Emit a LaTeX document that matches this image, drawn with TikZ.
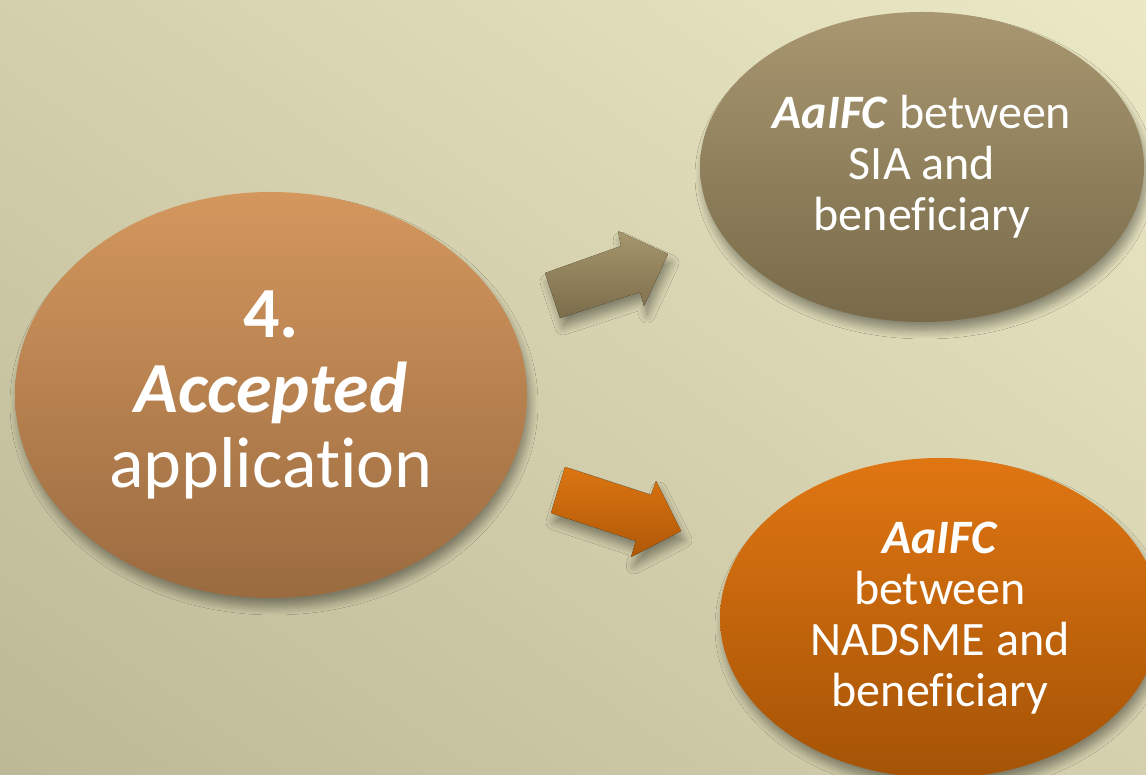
\documentclass[tikz,border=0pt]{standalone}
\usepackage{fontspec}
\setmainfont{Carlito}[Ligatures={NoCommon,NoContextual}]
\usetikzlibrary{shapes.geometric,shadows.blur}
\definecolor{bgLight}{HTML}{ECE9C6}
\definecolor{bgDark}{HTML}{BCB795}
\definecolor{bigTop}{HTML}{D4975E}
\definecolor{bigBot}{HTML}{9A6B40}
\definecolor{trTop}{HTML}{A89770}
\definecolor{trBot}{HTML}{786A49}
\definecolor{brTop}{HTML}{E07612}
\definecolor{brBot}{HTML}{A45306}
\definecolor{arATop}{HTML}{A6966C}
\definecolor{arABot}{HTML}{7C6D4B}
\definecolor{arBTop}{HTML}{DB7511}
\definecolor{arBBot}{HTML}{B05808}
\begin{document}
\begin{tikzpicture}[x=0.5pt,y=0.5pt,
  softshadow/.style={blur shadow={shadow xshift=1.5pt,shadow yshift=-4.5pt,shadow blur radius=4pt,shadow blur steps=10,shadow opacity=38}},
  bubble/.style={ellipse,inner sep=0pt,text=white,align=center,softshadow},
  bigtext/.style={font=\fontsize{36}{37.5}\selectfont},
  smalltext/.style={font=\fontsize{24}{25.5}\selectfont},
  arrowA/.style={top color=arATop,bottom color=arABot,softshadow},
  arrowB/.style={top color=arBTop,bottom color=arBBot,softshadow}]
\useasboundingbox (0,0) rectangle (1146,775);
\clip (0,0) rectangle (1146,775);
\fill[top color=bgLight,bottom color=bgDark,shading angle=-35] (-200,-200) rectangle (1346,975);

\node[bubble,bigtext,minimum width=256pt,minimum height=203pt,top color=bigTop,bottom color=bigBot] (app) at (271,380)
  {\textbf{4.}\\\textbf{\textit{Accepted}}\\application};
\node[bubble,smalltext,minimum width=222pt,minimum height=155pt,top color=trTop,bottom color=trBot] (sia) at (922,608)
  {\textbf{\textit{AaIFC}} between\\SIA and\\beneficiary};
\node[bubble,smalltext,minimum width=220pt,minimum height=160pt,top color=brTop,bottom color=brBot] (nad) at (940,157)
  {\textbf{\textit{AaIFC}}\\between\\NADSME and\\beneficiary};

\fill[arrowA] (545,502) -- (621,529) -- (618,544) -- (668,521) -- (644,469) -- (640,483) -- (560,457) -- cycle;
\fill[arrowB] (565,308) -- (651,280) -- (656,294) -- (681,244) -- (631,218) -- (636,234) -- (551,262) -- cycle;
\end{tikzpicture}
\end{document}
